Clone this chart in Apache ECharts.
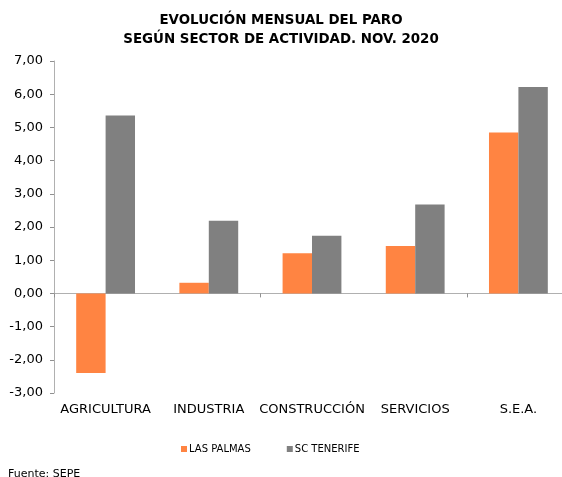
<!DOCTYPE html>
<html><head><meta charset="utf-8">
<script src="https://cdn.jsdelivr.net/npm/echarts@6/dist/echarts.min.js"></script>
<style>html,body{margin:0;padding:0;background:#fff}#c{width:562px;height:477px}</style>
</head><body><div id="c"></div>
<script>
const categories = ['AGRICULTURA','INDUSTRIA','CONSTRUCCIÓN','SERVICIOS','S.E.A.'];
const lasPalmas = [-2.40, 0.32, 1.21, 1.43, 4.85];
const scTenerife = [5.36, 2.19, 1.74, 2.68, 6.22];
const seriesNames = ['LAS PALMAS','SC TENERIFE'];
const titleLines = ['EVOLUCIÓN MENSUAL DEL PARO','SEGÚN SECTOR DE ACTIVIDAD. NOV. 2020'];
const sourceText = 'Fuente: SEPE';

const chart = echarts.init(document.getElementById('c'), null, {renderer:'canvas'});
const font = '"DejaVu Sans", sans-serif';
chart.setOption({
  animation:false,
  textStyle:{fontFamily:font},
  title:{text:titleLines.join('\n'), left:'center', top:6, padding:[5,15,5,5],
    textStyle:{fontFamily:font,fontSize:13.4,fontWeight:'bold',color:'#000',lineHeight:19,align:'center'}},
  legend:{data:seriesNames, top:439, left:176, itemWidth:6, itemHeight:6, itemGap:36, icon:'rect',
    textStyle:{fontFamily:font,fontSize:10,color:'#000',padding:[0,0,0,-3]}},
  graphic:[{type:'text', left:8, top:469, style:{text:sourceText, font:'11px '+font, fill:'#000'}}],
  grid:{left:54, top:61, right:-8, bottom:84, outerBoundsMode:'none'},
  xAxis:[
    {type:'category', data:categories, position:'bottom',
      axisLine:{show:false, onZero:false}, axisTick:{show:false},
      axisLabel:{margin:10, fontSize:13, fontFamily:font, color:'#000', interval:0}},
    {type:'category', data:categories, position:'bottom',
      axisLine:{show:true, onZero:true, lineStyle:{color:'#b0b0b0', width:1}},
      axisTick:{show:true, length:4, lineStyle:{color:'#909090'}},
      axisLabel:{show:false}}
  ],
  yAxis:{type:'value', min:-3, max:7, interval:1,
    axisLine:{show:true, lineStyle:{color:'#b0b0b0'}},
    axisTick:{show:true, length:4, lineStyle:{color:'#909090'}},
    splitLine:{show:false},
    axisLabel:{fontSize:13, fontFamily:font, color:'#000', margin:11,
      formatter:v=>v.toFixed(2).replace('.',',')}},
  series:[
    {name:seriesNames[0], type:'bar', data:lasPalmas, barGap:'0%', barCategoryGap:'43%',
      itemStyle:{color:'#FF8442'}},
    {name:seriesNames[1], type:'bar', data:scTenerife, barGap:'0%', barCategoryGap:'43%',
      itemStyle:{color:'#808080'}}
  ]
});
</script></body></html>
